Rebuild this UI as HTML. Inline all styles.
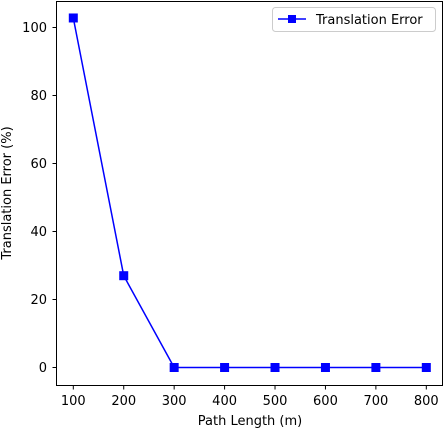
<!DOCTYPE html>
<html><head><meta charset="utf-8"><style>
body{margin:0;background:#fff;}
svg{display:block;font-family:"DejaVu Sans","Liberation Sans",sans-serif;}
</style></head><body>
<svg id="chart" width="443" height="428" xmlns="http://www.w3.org/2000/svg">
<rect width="443" height="428" fill="#fff"/>
<g id="grid"></g>
<g id="series"></g>
<rect x="56.5" y="1.5" width="386" height="384" fill="none" stroke="#000" stroke-width="1"/>
<text x="250" y="425" font-size="13" text-anchor="middle">Path Length (m)</text>
<text transform="translate(11,193) rotate(-90)" font-size="13" text-anchor="middle">Translation Error (%)</text>
<g>
<rect x="272.5" y="7.5" width="163" height="24" rx="3" fill="#fff" stroke="#ccc"/>
<line x1="278" y1="19" x2="306" y2="19" stroke="#0000ff" stroke-width="1.5"/>
<rect x="288" y="15" width="8" height="8" fill="#0000ff"/>
<text x="316" y="24" font-size="13">Translation Error</text>
</g>
</svg>
<script>
const categories = [100, 200, 300, 400, 500, 600, 700, 800];
const errorValues = [102.8, 27.0, 0, 0, 0, 0, 0, 0];
const xTicks = [100, 200, 300, 400, 500, 600, 700, 800];
const yTicks = [0, 20, 40, 60, 80, 100];
const NS = "http://www.w3.org/2000/svg";
function xs(v){ return 73.3 + (v - 100) * 0.5043; }
function ys(v){ return 367.5 - v * 3.4; }
const g = document.getElementById('grid');
const s = document.getElementById('series');
function mk(tag, attrs, parent){ const e = document.createElementNS(NS, tag); for (const k in attrs) e.setAttribute(k, attrs[k]); parent.appendChild(e); return e; }
xTicks.forEach(t => {
  const x = xs(t);
  const l = mk('line', {x1:x, x2:x, y1:385.5, y2:389.5, stroke:'#000'}, g);
  
  
  const tx = mk('text', {x:x, y:405, 'font-size':13, 'text-anchor':'middle'}, g);
  tx.textContent = t;
  
  
});
yTicks.forEach(t => {
  const y = ys(t);
  const l = mk('line', {x1:52.5, x2:56.5, y1:y, y2:y, stroke:'#000'}, g);
  
  
  const tx = mk('text', {x:47, y:y + 4.5, 'font-size':13, 'text-anchor':'end'}, g);
  tx.textContent = t;
  
  
});
const pts = categories.map((c, i) => xs(c) + ',' + ys(errorValues[i])).join(' ');
const line = mk('polyline', {points:pts, fill:'none', stroke:'#0000ff', 'stroke-width':1.5}, s);


categories.forEach((c, i) => {
  const r = mk('rect', {x:xs(c) - 4.5, y:ys(errorValues[i]) - 4.5, width:9, height:9, fill:'#0000ff'}, s);
  
  
});
</script>
</body></html>
